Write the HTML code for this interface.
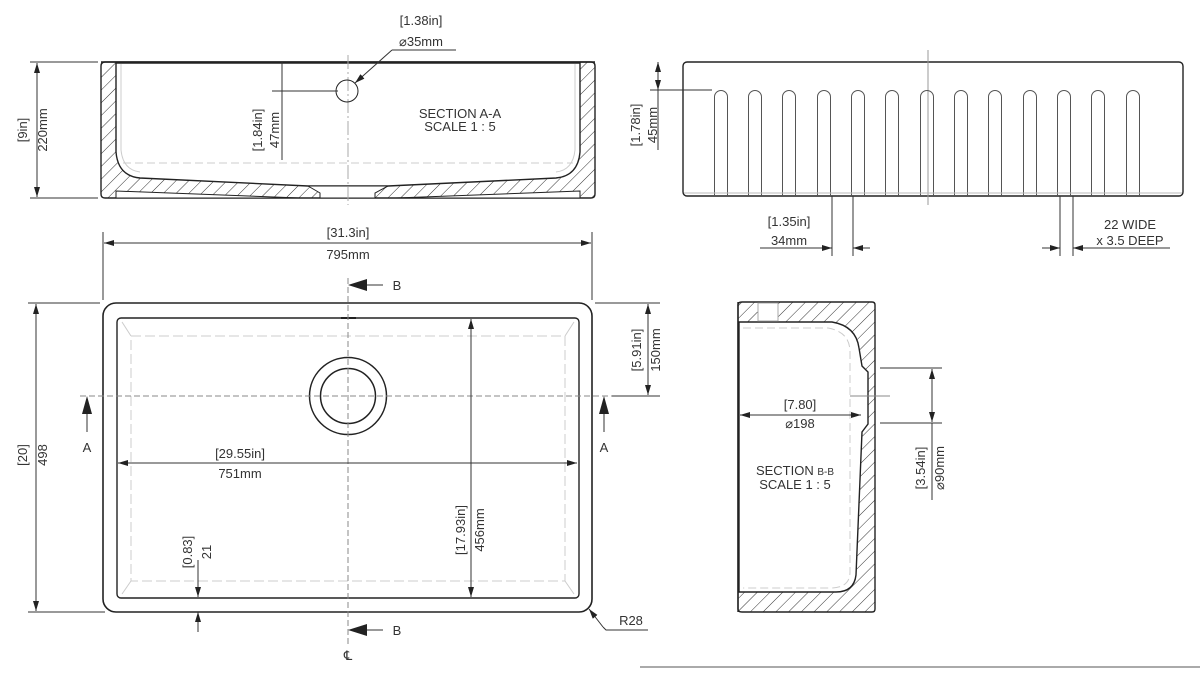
<!DOCTYPE html>
<html><head><meta charset="utf-8"><style>
html,body{margin:0;padding:0;background:#fff;}
svg{display:block;}
text{font-family:"Liberation Sans",sans-serif;fill:#333;font-size:13px;}
</style></head><body>
<svg width="1200" height="679" viewBox="0 0 1200 679" xmlns="http://www.w3.org/2000/svg">
<defs>
<pattern id="h" patternUnits="userSpaceOnUse" width="9" height="9" patternTransform="rotate(45)">
<rect width="9" height="9" fill="#fff"/><line x1="0" y1="0" x2="0" y2="9" stroke="#333" stroke-width="1"/>
</pattern>
<marker id="ar" viewBox="0 0 10 6" refX="10" refY="3" markerWidth="10" markerHeight="6" orient="auto-start-reverse" markerUnits="userSpaceOnUse"><path d="M0,0 L10,3 L0,6 Z" fill="#222"/></marker>
</defs>
<g stroke="#333" fill="none" stroke-width="1">

<!-- SECTION A-A -->
<path fill="url(#h)" fill-rule="evenodd" stroke="#222" stroke-width="1.4" d="M105,62 H591 Q595,62 595,66 V194 Q595,198 591,198 H105 Q101,198 101,194 V66 Q101,62 105,62 Z
M116,63 L116,152 Q118,176 140,178 L308,186 L320,186 L376,186 L388,186 L556,178 Q578,176 580,152 L580,63 Z"/>
<path fill="#fff" stroke="#222" d="M116,191 L300,198 L116,198 Z M580,191 L396,198 L580,198 Z"/>
<path fill="#fff" stroke="#222" d="M308,186 L320,193 L320,198 L375,198 L375,193 L388,186 Z"/>
<line x1="101" y1="62" x2="595" y2="62" stroke="#222" stroke-width="1.4"/>
<path stroke="#ccc" stroke-dasharray="8,4" d="M123,163 L573,163"/>
<path stroke="#ccc" d="M121,64 L121,150 Q123,170 140,172 M575,64 L575,150 Q573,170 556,172"/>
<line x1="348" y1="55" x2="348" y2="205" stroke="#aaa" stroke-dasharray="14,3,2,3"/>
<circle cx="347" cy="91" r="11" stroke="#222"/>
<line x1="272" y1="91" x2="338" y2="91"/>
<line x1="282" y1="62" x2="282" y2="160"/>
<line x1="392" y1="50" x2="355" y2="83" marker-end="url(#ar)"/>
<polyline points="392,50 456,50"/>
<!-- 9in -->
<line x1="30" y1="62" x2="98" y2="62"/><line x1="30" y1="198" x2="98" y2="198"/>
<line x1="37" y1="63" x2="37" y2="197" marker-start="url(#ar)" marker-end="url(#ar)"/>
<!-- 795 -->
<line x1="103" y1="232" x2="103" y2="300"/><line x1="592" y1="232" x2="592" y2="300"/>
<line x1="104" y1="243" x2="591" y2="243" marker-start="url(#ar)" marker-end="url(#ar)"/>

<!-- FRONT VIEW -->
<rect x="683" y="62" width="500" height="134" rx="4" stroke="#222" stroke-width="1.4"/>
<line x1="928" y1="50" x2="928" y2="205" stroke="#999"/>
<g stroke="#555">
<path d="M714.5,196 V97 a6.5,6.5 0 0 1 13,0 V196 M748.5,196 V97 a6.5,6.5 0 0 1 13,0 V196 M782.5,196 V97 a6.5,6.5 0 0 1 13,0 V196 M817.5,196 V97 a6.5,6.5 0 0 1 13,0 V196 M851.5,196 V97 a6.5,6.5 0 0 1 13,0 V196 M885.5,196 V97 a6.5,6.5 0 0 1 13,0 V196 M920.5,196 V97 a6.5,6.5 0 0 1 13,0 V196 M954.5,196 V97 a6.5,6.5 0 0 1 13,0 V196 M988.5,196 V97 a6.5,6.5 0 0 1 13,0 V196 M1023.5,196 V97 a6.5,6.5 0 0 1 13,0 V196 M1057.5,196 V97 a6.5,6.5 0 0 1 13,0 V196 M1091.5,196 V97 a6.5,6.5 0 0 1 13,0 V196 M1126.5,196 V97 a6.5,6.5 0 0 1 13,0 V196"/>
</g>
<line x1="684" y1="193" x2="1182" y2="193" stroke="#bbb"/>
<line x1="650" y1="90" x2="712" y2="90"/>
<line x1="658" y1="62" x2="658" y2="90" marker-start="url(#ar)" marker-end="url(#ar)"/>
<line x1="658" y1="90" x2="658" y2="150"/>
<line x1="832" y1="196" x2="832" y2="256"/><line x1="853" y1="196" x2="853" y2="256"/>
<line x1="760" y1="248" x2="832" y2="248" marker-end="url(#ar)"/>
<line x1="870" y1="248" x2="853" y2="248" marker-end="url(#ar)"/>
<line x1="1060" y1="196" x2="1060" y2="256"/><line x1="1073" y1="196" x2="1073" y2="256"/>
<line x1="1042" y1="248" x2="1060" y2="248" marker-end="url(#ar)"/>
<line x1="1170" y1="248" x2="1073" y2="248" marker-end="url(#ar)"/>

<!-- PLAN VIEW -->
<rect x="103" y="303" width="489" height="309" rx="13" stroke="#222" stroke-width="1.6"/>
<rect x="117" y="318" width="462" height="280" rx="4" stroke="#222" stroke-width="1.4"/>
<rect x="131" y="336" width="434" height="245" stroke="#ccc" stroke-dasharray="10,4"/>
<path stroke="#ccc" d="M122,322 L131,336 M574,322 L565,336 M122,594 L131,581 M574,594 L565,581"/>
<circle cx="348" cy="396" r="38.5" stroke="#222" stroke-width="1.5"/>
<circle cx="348" cy="396" r="27.5" stroke="#222" stroke-width="1.5"/>
<line x1="341" y1="318" x2="356" y2="318" stroke="#222" stroke-width="2"/>
<line x1="348" y1="278" x2="348" y2="645" stroke="#888" stroke-dasharray="6,3"/>
<line x1="80" y1="396" x2="612" y2="396" stroke="#888" stroke-dasharray="6,3"/>
<line x1="612" y1="396" x2="660" y2="396"/>
<path fill="#222" stroke="none" d="M348,285 L367,279 L367,291 Z M348,630 L367,624 L367,636 Z M87,396 L82,414 L92,414 Z M604,396 L599,414 L609,414 Z"/>
<line x1="367" y1="285" x2="383" y2="285"/><line x1="367" y1="630" x2="383" y2="630"/>
<line x1="87" y1="414" x2="87" y2="432"/><line x1="604" y1="414" x2="604" y2="432"/>
<line x1="28" y1="303" x2="100" y2="303"/><line x1="28" y1="612" x2="105" y2="612"/>
<line x1="36" y1="304" x2="36" y2="611" marker-start="url(#ar)" marker-end="url(#ar)"/>
<line x1="118" y1="463" x2="577" y2="463" marker-start="url(#ar)" marker-end="url(#ar)"/>
<line x1="471" y1="319" x2="471" y2="597" marker-start="url(#ar)" marker-end="url(#ar)"/>
<line x1="198" y1="560" x2="198" y2="597" marker-end="url(#ar)"/>
<line x1="198" y1="632" x2="198" y2="612" marker-end="url(#ar)"/>
<line x1="595" y1="303" x2="660" y2="303"/>
<line x1="648" y1="304" x2="648" y2="395" marker-start="url(#ar)" marker-end="url(#ar)"/>
<line x1="603" y1="627" x2="589" y2="609" marker-end="url(#ar)"/>
<polyline points="603,627 606,630 648,630"/>

<!-- SECTION B-B -->
<path fill="url(#h)" fill-rule="evenodd" stroke="#222" stroke-width="1.4" d="M742,302 H872 Q875,302 875,305 V609 Q875,612 872,612 H742 Q738,612 738,609 V305 Q738,302 742,302 Z
M739,322 L832,322 Q856,326 859,348 L862,366 L868,372 L868,424 L862,432 L856,575 Q854,592 836,592 L739,592 Z"/>
<line x1="738" y1="302" x2="738" y2="612" stroke="#222" stroke-width="1.4"/>
<rect x="758" y="303" width="20" height="18" fill="#fff" stroke="#aaa"/>
<path stroke="#ccc" stroke-dasharray="8,4" d="M743,328 H828 Q850,332 850,352 V572 Q850,588 830,588 H743"/>
<line x1="868" y1="372" x2="868" y2="424" stroke="#222"/>
<line x1="740" y1="415" x2="861" y2="415" marker-start="url(#ar)" marker-end="url(#ar)"/>
<line x1="850" y1="396" x2="890" y2="396" stroke="#888"/>
<line x1="880" y1="368" x2="942" y2="368"/><line x1="880" y1="423" x2="942" y2="423"/>
<line x1="932" y1="369" x2="932" y2="422" marker-start="url(#ar)" marker-end="url(#ar)"/>
<line x1="932" y1="423" x2="932" y2="500"/>

<line x1="640" y1="667" x2="1200" y2="667" stroke="#555"/>
</g>

<text x="421" y="25" text-anchor="middle">[1.38in]</text>
<text x="421" y="46" text-anchor="middle">⌀35mm</text>
<text x="460" y="118" text-anchor="middle" font-size="12">SECTION A-A</text>
<text x="460" y="131" text-anchor="middle" font-size="12">SCALE 1 : 5</text>
<text transform="translate(262,130) rotate(-90)" text-anchor="middle">[1.84in]</text>
<text transform="translate(279,130) rotate(-90)" text-anchor="middle">47mm</text>
<text transform="translate(27,130) rotate(-90)" text-anchor="middle">[9in]</text>
<text transform="translate(47,130) rotate(-90)" text-anchor="middle">220mm</text>
<text x="348" y="237" text-anchor="middle">[31.3in]</text>
<text x="348" y="259" text-anchor="middle">795mm</text>
<text transform="translate(640,125) rotate(-90)" text-anchor="middle">[1.78in]</text>
<text transform="translate(657,125) rotate(-90)" text-anchor="middle">45mm</text>
<text x="789" y="226" text-anchor="middle">[1.35in]</text>
<text x="789" y="245" text-anchor="middle">34mm</text>
<text x="1130" y="229" text-anchor="middle">22 WIDE</text>
<text x="1130" y="245" text-anchor="middle">x 3.5 DEEP</text>
<text x="397" y="290" text-anchor="middle">B</text>
<text x="397" y="635" text-anchor="middle">B</text>
<text x="87" y="452" text-anchor="middle">A</text>
<text x="604" y="452" text-anchor="middle">A</text>
<text x="348" y="660" text-anchor="middle">℄</text>
<text transform="translate(27,455) rotate(-90)" text-anchor="middle">[20]</text>
<text transform="translate(47,455) rotate(-90)" text-anchor="middle">498</text>
<text x="240" y="458" text-anchor="middle">[29.55in]</text>
<text x="240" y="478" text-anchor="middle">751mm</text>
<text transform="translate(465,530) rotate(-90)" text-anchor="middle">[17.93in]</text>
<text transform="translate(484,530) rotate(-90)" text-anchor="middle">456mm</text>
<text transform="translate(192,552) rotate(-90)" text-anchor="middle">[0.83]</text>
<text transform="translate(211,552) rotate(-90)" text-anchor="middle">21</text>
<text transform="translate(641,350) rotate(-90)" text-anchor="middle">[5.91in]</text>
<text transform="translate(660,350) rotate(-90)" text-anchor="middle">150mm</text>
<text x="631" y="625" text-anchor="middle" font-size="12">R28</text>
<text x="800" y="409" text-anchor="middle">[7.80]</text>
<text x="800" y="428" text-anchor="middle">⌀198</text>
<text x="795" y="475" text-anchor="middle" font-size="12">SECTION <tspan font-size="10">B-B</tspan></text>
<text x="795" y="489" text-anchor="middle" font-size="12">SCALE 1 : 5</text>
<text transform="translate(925,468) rotate(-90)" text-anchor="middle">[3.54in]</text>
<text transform="translate(944,468) rotate(-90)" text-anchor="middle">⌀90mm</text>
</svg>
</body></html>
